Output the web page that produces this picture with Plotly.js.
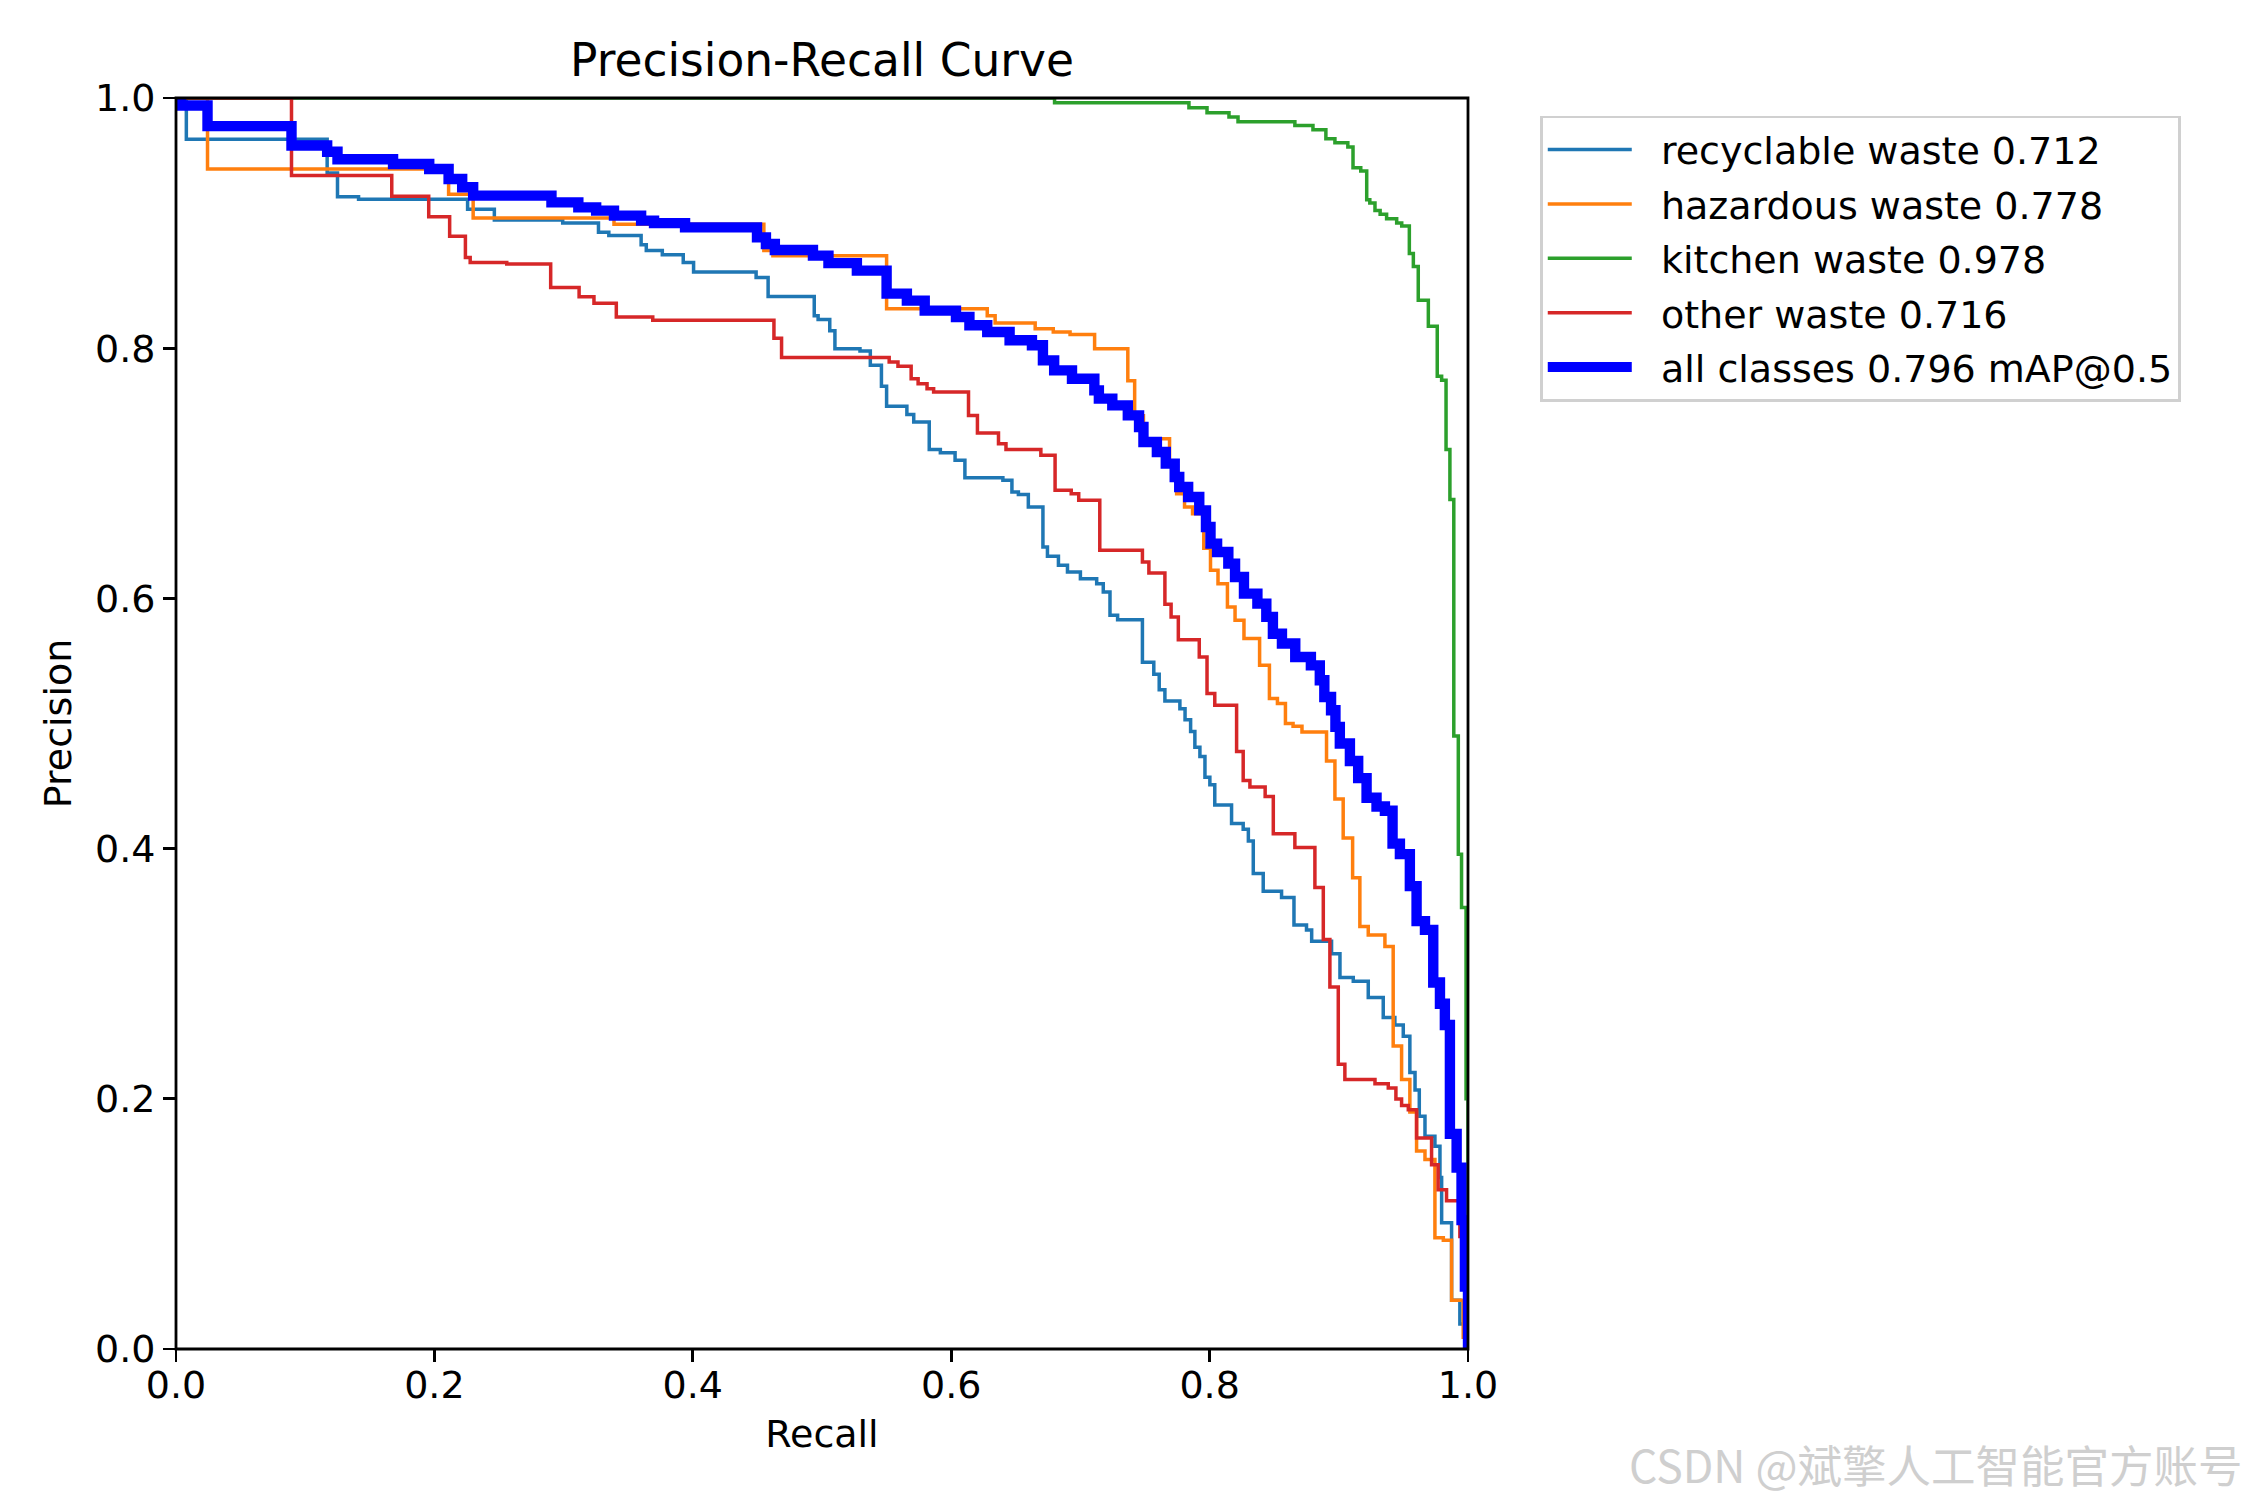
<!DOCTYPE html>
<html>
<head>
<meta charset="utf-8">
<script src="https://cdn.plot.ly/plotly-3.0.1.min.js"></script>
<style>
  html, body { margin: 0; padding: 0; background: #fff; }
  #chart { width: 2250px; height: 1500px; }
</style>
</head>
<body>
<div id="chart"></div>
<script>
// class names and their AP@0.5 as printed in the legend
const classNames = ['recyclable waste', 'hazardous waste', 'kitchen waste', 'other waste'];
const classAP = [0.712, 0.778, 0.978, 0.716];
const allLabel = 'all classes 0.796 mAP@0.5';

// each curve: recall where a step starts, precision held until the next step
const recyclableR = [0, 0.008, 0.117, 0.125, 0.1413, 0.2257, 0.2464, 0.2993, 0.327, 0.335, 0.360, 0.364, 0.3764, 0.3926, 0.4006, 0.449, 0.4583, 0.494, 0.497, 0.506, 0.510, 0.5294, 0.5374, 0.546, 0.550, 0.5657, 0.571, 0.583, 0.5916, 0.603, 0.6106, 0.640, 0.647, 0.652, 0.6597, 0.671, 0.6745, 0.683, 0.690, 0.700, 0.7126, 0.7177, 0.7229, 0.7288, 0.748, 0.7568, 0.761, 0.7654, 0.777, 0.781, 0.7853, 0.7886, 0.7925, 0.7964, 0.8002, 0.804, 0.817, 0.826, 0.830, 0.8338, 0.8415, 0.8557, 0.8653, 0.875, 0.879, 0.8944, 0.9009, 0.9112, 0.9228, 0.9344, 0.9434, 0.9499, 0.955, 0.959, 0.9623, 0.9667, 0.9744, 0.9783, 0.9796, 0.9873, 0.9937, 1.0];
const recyclableP = [1.0, 0.967, 0.940, 0.921, 0.919, 0.911, 0.9025, 0.900, 0.8926, 0.890, 0.8827, 0.878, 0.8747, 0.8686, 0.861, 0.8566, 0.8414, 0.826, 0.823, 0.814, 0.7996, 0.7977, 0.7863, 0.7695, 0.7535, 0.747, 0.741, 0.719, 0.7165, 0.7104, 0.6965, 0.6944, 0.685, 0.683, 0.673, 0.641, 0.6336, 0.6264, 0.6211, 0.6158, 0.6118, 0.6051, 0.5865, 0.583, 0.549, 0.5393, 0.527, 0.518, 0.5117, 0.503, 0.4937, 0.481, 0.4736, 0.457, 0.451, 0.4348, 0.420, 0.4154, 0.406, 0.380, 0.366, 0.361, 0.339, 0.335, 0.326, 0.316, 0.297, 0.294, 0.281, 0.265, 0.259, 0.250, 0.221, 0.207, 0.186, 0.170, 0.162, 0.137, 0.101, 0.039, 0.020, 0.0];

const hazardousR = [0, 0.0244, 0.211, 0.230, 0.339, 0.455, 0.462, 0.550, 0.6279, 0.634, 0.665, 0.679, 0.692, 0.711, 0.7367, 0.742, 0.7488, 0.769, 0.7745, 0.7806, 0.7868, 0.7955, 0.8007, 0.8065, 0.8138, 0.8197, 0.8266, 0.8387, 0.8463, 0.8525, 0.8587, 0.8646, 0.8715, 0.8905, 0.897, 0.9034, 0.9107, 0.9163, 0.9228, 0.9357, 0.9421, 0.9486, 0.955, 0.9602, 0.9667, 0.9744, 0.9809, 0.9873, 0.9963, 1.0];
const hazardousP = [1.0, 0.9433, 0.923, 0.904, 0.899, 0.878, 0.874, 0.8316, 0.826, 0.8201, 0.8156, 0.813, 0.811, 0.7996, 0.774, 0.746, 0.7277, 0.7077, 0.6837, 0.673, 0.6677, 0.640, 0.6225, 0.6118, 0.5932, 0.5825, 0.5679, 0.5465, 0.520, 0.516, 0.500, 0.4978, 0.4933, 0.470, 0.4396, 0.4085, 0.3766, 0.3378, 0.3309, 0.3218, 0.2422, 0.2155, 0.1895, 0.1583, 0.1514, 0.089, 0.087, 0.039, 0.0094, 0.0];

const kitchenR = [0, 0.680, 0.784, 0.798, 0.815, 0.822, 0.866, 0.880, 0.890, 0.897, 0.907, 0.911, 0.917, 0.9216, 0.924, 0.928, 0.932, 0.937, 0.9448, 0.9487, 0.9546, 0.9577, 0.9615, 0.9693, 0.9762, 0.9796, 0.983, 0.986, 0.989, 0.9925, 0.995, 0.9985, 1.0];
const kitchenP = [1.0, 0.9963, 0.9922, 0.9883, 0.9848, 0.981, 0.978, 0.9747, 0.9675, 0.9643, 0.9608, 0.9443, 0.9416, 0.9187, 0.916, 0.910, 0.907, 0.9035, 0.900, 0.8976, 0.8756, 0.8654, 0.8383, 0.8175, 0.7775, 0.7743, 0.719, 0.679, 0.490, 0.3955, 0.353, 0.20, 0.0];

const otherR = [0, 0.0894, 0.167, 0.1956, 0.2118, 0.224, 0.2277, 0.256, 0.290, 0.312, 0.3235, 0.3408, 0.369, 0.4628, 0.4687, 0.552, 0.5588, 0.569, 0.5744, 0.5813, 0.5864, 0.6134, 0.6203, 0.6366, 0.6424, 0.6694, 0.6804, 0.6929, 0.6987, 0.715, 0.748, 0.753, 0.7654, 0.7702, 0.7758, 0.792, 0.798, 0.804, 0.8209, 0.826, 0.8312, 0.843, 0.8493, 0.866, 0.8815, 0.888, 0.8931, 0.8996, 0.9047, 0.928, 0.9383, 0.9442, 0.9486, 0.9538, 0.9602, 0.9718, 0.9769, 0.9834, 0.9937, 1.0];
const otherP = [1.0, 0.938, 0.9215, 0.905, 0.8894, 0.8726, 0.8686, 0.8673, 0.8486, 0.8411, 0.836, 0.825, 0.8224, 0.808, 0.7925, 0.789, 0.7855, 0.7756, 0.7716, 0.7676, 0.765, 0.7463, 0.7322, 0.7237, 0.719, 0.7144, 0.6864, 0.6837, 0.6784, 0.6384, 0.6291, 0.6203, 0.5953, 0.5852, 0.567, 0.5532, 0.5239, 0.5146, 0.4777, 0.4545, 0.4493, 0.4417, 0.4119, 0.4008, 0.369, 0.3274, 0.2893, 0.2276, 0.2155, 0.212, 0.2086, 0.1999, 0.1947, 0.1912, 0.1687, 0.1472, 0.1272, 0.1185, 0.090, 0.0];

const allR = [0, 0.004, 0.0244, 0.0894, 0.117, 0.125, 0.168, 0.196, 0.211, 0.2215, 0.230, 0.2906, 0.3114, 0.3252, 0.339, 0.360, 0.370, 0.394, 0.4497, 0.4566, 0.4635, 0.493, 0.505, 0.527, 0.550, 0.5657, 0.5795, 0.6037, 0.6141, 0.6279, 0.6452, 0.6625, 0.671, 0.6797, 0.6935, 0.7108, 0.7143, 0.7247, 0.7367, 0.7454, 0.7488, 0.7592, 0.7661, 0.773, 0.7765, 0.7834, 0.792, 0.7972, 0.8007, 0.8058, 0.8145, 0.8197, 0.8266, 0.837, 0.8439, 0.849, 0.856, 0.8663, 0.8784, 0.8853, 0.8888, 0.894, 0.8974, 0.9008, 0.9086, 0.915, 0.9215, 0.9292, 0.9357, 0.9416, 0.9473, 0.955, 0.9602, 0.9667, 0.9731, 0.9783, 0.9821, 0.986, 0.9912, 0.995, 0.9976, 1.0];
const allP = [1.0, 0.994, 0.9775, 0.962, 0.957, 0.951, 0.9473, 0.9433, 0.9353, 0.9287, 0.922, 0.9166, 0.9126, 0.910, 0.906, 0.902, 0.900, 0.8966, 0.8886, 0.8833, 0.8785, 0.874, 0.868, 0.862, 0.8436, 0.838, 0.830, 0.8249, 0.8183, 0.813, 0.8063, 0.8023, 0.7903, 0.7823, 0.7756, 0.7663, 0.7597, 0.7543, 0.7463, 0.737, 0.725, 0.717, 0.7077, 0.697, 0.6891, 0.6811, 0.6704, 0.6571, 0.6438, 0.6371, 0.6278, 0.6171, 0.6038, 0.5958, 0.5852, 0.5718, 0.5639, 0.5532, 0.5465, 0.5346, 0.5212, 0.5106, 0.4973, 0.484, 0.470, 0.4563, 0.4407, 0.4337, 0.4303, 0.404, 0.3956, 0.370, 0.342, 0.335, 0.293, 0.276, 0.259, 0.172, 0.145, 0.103, 0.050, 0.0];

const tickVals = [0, 0.2, 0.4, 0.6, 0.8, 1.0];
const tickText = ['0.0', '0.2', '0.4', '0.6', '0.8', '1.0'];

const colors = ['#1f77b4', '#ff7f0e', '#2ca02c', '#d62728'];
const curvesR = [recyclableR, hazardousR, kitchenR, otherR];
const curvesP = [recyclableP, hazardousP, kitchenP, otherP];

// a little padding between legend line and its label
const pad = '\u00a0\u00a0';

let traces = [];
curvesR.forEach(function(r, i){
  traces.push({
    type: 'scatter', mode: 'lines',
    x: r, y: curvesP[i],
    name: pad + classNames[i] + ' ' + classAP[i].toFixed(3),
    legendgroup: 'g' + i,
    line: {color: colors[i], width: 3.5, shape: 'hv'}
  });
});
traces.push({
  type: 'scatter', mode: 'lines',
  x: allR, y: allP,
  name: pad + allLabel,
  legendgroup: 'gall',
  line: {color: '#0000ff', width: 10.4, shape: 'hv'}
});

const font = 'DejaVu Sans, sans-serif';

let axisBase = {
  range: [0, 1],
  tickvals: tickVals,
  ticktext: tickText,
  ticks: 'outside',
  ticklen: 12,
  tickwidth: 2.8,
  tickcolor: '#000',
  showline: false,
  showgrid: false,
  zeroline: false,
  tickfont: {family: font, size: 38, color: '#000'},
  fixedrange: true
};

let layout = {
  width: 2250,
  height: 1500,
  margin: {l: 176, r: 782, t: 98, b: 151},
  paper_bgcolor: '#fff',
  plot_bgcolor: '#fff',
  title: {
    text: 'Precision-Recall Curve',
    font: {family: font, size: 45.5, color: '#000'},
    xref: 'paper', x: 0.5, xanchor: 'center',
    yref: 'container', y: 0.96, yanchor: 'middle'
  },
  xaxis: Object.assign({}, axisBase, {
    ticklabelstandoff: -10,
    title: {text: 'Recall', font: {family: font, size: 38, color: '#000'}, standoff: 14}
  }),
  yaxis: Object.assign({}, axisBase, {
    title: {text: 'Precision', font: {family: font, size: 38, color: '#000'}, standoff: 11}
  }),
  // frame drawn over the curves, centred on the plot edges
  shapes: [{
    type: 'rect', xref: 'paper', yref: 'paper',
    x0: 0, x1: 1, y0: 0, y1: 1,
    line: {color: '#000', width: 2.8},
    layer: 'above'
  }],
  showlegend: true,
  legend: {
    x: 1.0557, y: 0.986, xanchor: 'left', yanchor: 'top',
    font: {family: font, size: 38, color: '#000'},
    bordercolor: '#d0d0d0', borderwidth: 2.8,
    bgcolor: '#fff',
    itemwidth: 84,
    tracegroupgap: 2
  },
  annotations: [{
    text: 'CSDN @斌擎人工智能官方账号',
    xref: 'paper', yref: 'paper',
    x: 1.6016, y: -0.0919, xanchor: 'right', yanchor: 'middle',
    showarrow: false,
    font: {family: 'Noto Sans CJK SC, sans-serif', size: 44.5, color: '#cfcfcf'}
  }]
};

Plotly.newPlot('chart', traces, layout, {staticPlot: true, displayModeBar: false});
</script>
</body>
</html>
